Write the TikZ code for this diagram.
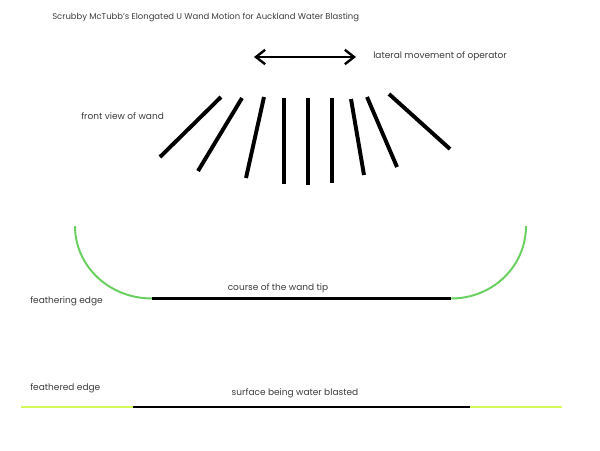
\documentclass[tikz,border=0pt]{standalone}
\usepackage{fontspec}
\setmainfont{Poppins}
\usepackage{xcolor}
\usetikzlibrary{arrows.meta,positioning}
\definecolor{txtgray}{RGB}{60,60,60}
\definecolor{feathergreen}{RGB}{105,208,95}
\definecolor{featheryellow}{RGB}{212,250,85}
\begin{document}
\begin{tikzpicture}[x=0.025cm,y=-0.025cm,
  lbl/.style={font=\fontsize{6.4}{7}\selectfont,text=txtgray,inner sep=0pt},
  heading/.style={lbl,font=\fontsize{6.0}{7}\selectfont},
  wand/.style={line width=2.8pt},
  tip/.style={line width=2pt},
  edge/.style={line width=1.4pt,draw=feathergreen},
  surf/.style={line width=1.4pt,draw=featheryellow},
  arr/.style={{Straight Barb[length=2.3mm,width=3.6mm]}-{Straight Barb[length=2.3mm,width=3.6mm]},line width=1.7pt}]
\useasboundingbox (0,0) rectangle (600,450);
\node[heading,anchor=west] (title) at (52,17) {Scrubby McTubb's Elongated U Wand Motion for Auckland Water Blasting};
% operator movement
\coordinate (opl) at (254,57);
\coordinate (opr) at (356,57);
\draw[arr] (opl) -- (opr);
\node[lbl,anchor=west] (lateral) at (373,56) {lateral movement of operator};
% front view of wand
\node[lbl,anchor=west] (front) at (81,116) {front view of wand};
\foreach \xa/\ya/\xb/\yb in {160/157/221/97, 198/171/242/98, 246/178/264/97,
    284/184/284/98, 308/185/308/98, 332/183/332/98, 364/175/351/99,
    397/167/367/97, 450/149/389/94}
  \draw[wand] (\xa,\ya) -- (\xb,\yb);
% course of the wand tip
\coordinate (ltop) at (75,226);
\coordinate (lbot) at (152,298.5);
\coordinate (rbot) at (451,298.5);
\coordinate (rtop) at (526,226);
\draw[edge] (ltop) .. controls (75,266) and (109,298.5) .. (lbot);
\draw[tip] (lbot) -- (rbot);
\draw[edge] (rbot) .. controls (493,298.5) and (526,266) .. (rtop);
\node[lbl] (course) at (278,288) {course of the wand tip};
\node[lbl,anchor=west] (feathering) at (30,301) {feathering edge};
% surface
\coordinate (sl) at (21,407);
\coordinate (sa) at (133,407);
\coordinate (sb) at (470,407);
\coordinate (sr) at (562,407);
\draw[surf] (sl) -- (sa);
\draw[tip] (sa) -- (sb);
\draw[surf] (sb) -- (sr);
\node[lbl,anchor=west] (feathered) at (30,388) {feathered edge};
\node[lbl] (surface) at (295,393) {surface being water blasted};
\end{tikzpicture}
\end{document}
